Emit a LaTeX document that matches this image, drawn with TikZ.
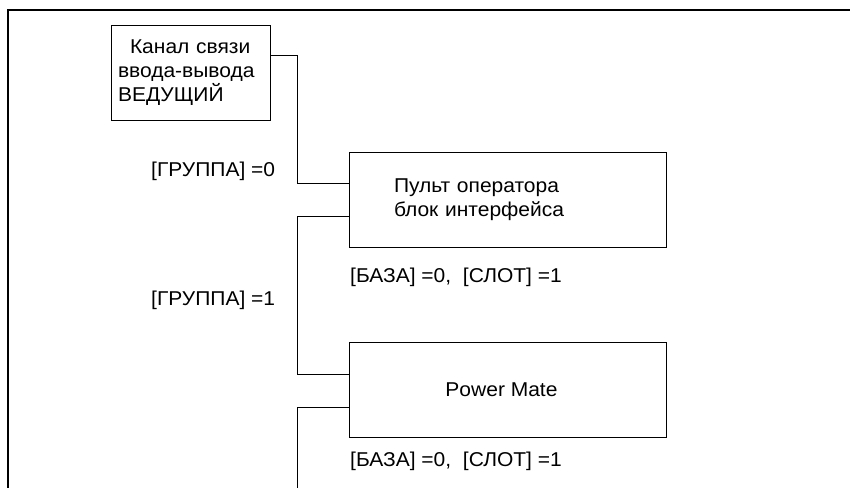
\documentclass[tikz,border=0pt]{standalone}
\usepackage{fontspec}
\setmainfont{Liberation Sans}[FakeStretch=1.05]
\usepackage{tikz}
\usetikzlibrary{positioning, calc}
\tikzset{
  box/.style={draw=black, line width=0.8pt, inner sep=0pt, font=\fs,
              minimum height=95pt},
  unitbox/.style={box, minimum width=317pt},
  lbl/.style={font=\fs, anchor=west, inner sep=0pt},
  link/.style={draw=black, line width=0.8pt},
  frameline/.style={draw=black, line width=2.6pt},
}
\newcommand{\fs}{\fontsize{20pt}{24pt}\selectfont}

\begin{document}
\begin{tikzpicture}[x=1pt, y=-1pt]
  \useasboundingbox (0,0) rectangle (850,488);
  % outer frame, top and left only
  \draw[frameline] (850,10) -- (8,10) -- (8,488);

  % master channel
  \node[box, minimum width=159pt, text width=145pt, align=left] (master)
    at (190.5,72.5) {\hspace*{12pt}Канал связи\\ввода-вывода\\ВЕДУЩИЙ};

  % slave units
  \node[unitbox, text width=227pt, inner xsep=45pt, align=left] (panel)
    at (507.5,199.5) {Пульт оператора\\блок интерфейса};
  \node[unitbox] (pmate) at (507.5,390) {\hspace*{-12pt}Power Mate};
  \coordinate (tail) at (297,488);

  % I/O link
  \draw[link] ([yshift=17.5pt]master.east) -| (297,183) -- ([yshift=16.5pt]panel.west);
  \draw[link] ([yshift=-16.5pt]panel.west) -| (297,374) -- ([yshift=16pt]pmate.west);
  \draw[link] ([yshift=-17pt]pmate.west) -| (tail);

  % labels
  \node[lbl] (grp0) at (151,171) {[ГРУППА] =0};
  \node[lbl] (grp1) at (151,300) {[ГРУППА] =1};
  \node[lbl] (slot0) at (350,277) {[БАЗА] =0,\ \ [СЛОТ] =1};
  \node[lbl] (slot1) at (350,461) {[БАЗА] =0,\ \ [СЛОТ] =1};
\end{tikzpicture}
\end{document}
